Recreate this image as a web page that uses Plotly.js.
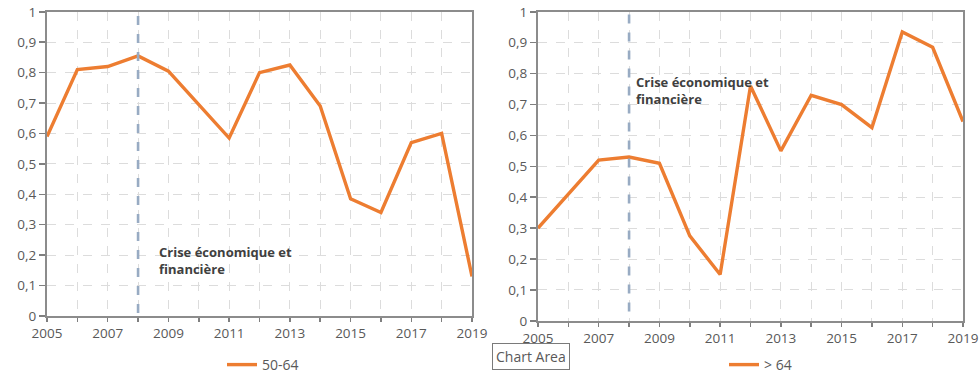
<!DOCTYPE html>
<html>
<head>
<meta charset="utf-8">
<script src="https://cdn.plot.ly/plotly-3.0.1.min.js"></script>
<style>
html,body{margin:0;padding:0;background:#fff;overflow:hidden;}
#chart{width:979px;height:381px;}
</style>
</head>
<body>
<div id="chart"></div>
<script>
// ---- data ----
const years = [2005,2006,2007,2008,2009,2010,2011,2012,2013,2014,2015,2016,2017,2018,2019];
const xTickLabels = ['2005','','2007','','2009','','2011','','2013','','2015','','2017','','2019'];
const seriesA_name = '50-64';
const seriesA = [0.59,0.81,0.82,0.855,0.805,0.695,0.585,0.80,0.825,0.69,0.385,0.34,0.57,0.60,0.13];
const seriesB_name = '> 64';
const seriesB = [0.30,0.41,0.52,0.53,0.51,0.275,0.15,0.76,0.55,0.73,0.70,0.625,0.935,0.885,0.645];
const crisisYear = 2008;
const crisisLabel = 'Crise économique et<br>financière';

const orange = '#ED7D31';
const tickFont = {family:'Open Sans, sans-serif', size:13.5, color:'#595959'};

function xax(domain, anchor){
  return {
    domain: domain, anchor: anchor, range:[2005,2019],
    tickmode:'array', tickvals: years, ticktext: xTickLabels,
    ticks:'outside', ticklen:4, tickcolor:'#7f7f7f', tickwidth:1.5,
    showline:true, linecolor:'#8c8c8c', linewidth:2, mirror:true,
    showgrid:true, gridcolor:'#dcdcdc', griddash:'dash', gridwidth:1,
    zeroline:false, tickfont: tickFont, fixedrange:true
  };
}
function yax(domain, anchor){
  return {
    domain: domain, anchor: anchor, range:[0,1], dtick:0.1, tick0:0,
    ticks:'outside', ticklen:6, tickcolor:'#7f7f7f', tickwidth:1.5,
    showline:true, linecolor:'#8c8c8c', linewidth:2, mirror:true,
    showgrid:true, gridcolor:'#dcdcdc', griddash:'dash', gridwidth:1,
    zeroline:false, tickfont: tickFont, fixedrange:true
  };
}

const traces = [
  {x: years, y: seriesA, name: seriesA_name, type:'scatter', mode:'lines',
   line:{color:orange, width:3.4}, xaxis:'x', yaxis:'y', legend:'legend'},
  {x: years, y: seriesB, name: seriesB_name, type:'scatter', mode:'lines',
   line:{color:orange, width:3.4}, xaxis:'x2', yaxis:'y2', legend:'legend2'}
];

const W = 979, H = 381;
const legFont = {family:'Open Sans, sans-serif', size:14, color:'#595959'};
const layout = {
  width: W, height: H,
  margin:{l:0,r:0,t:0,b:0},
  paper_bgcolor:'#fff', plot_bgcolor:'#fff',
  separators:', ',
  xaxis: xax([47/W, 472/W], 'y'),
  yaxis: yax([1-321/H, 1-12/H], 'x'),
  xaxis2: xax([538/W, 963/W], 'y2'),
  yaxis2: yax([1-326/H, 1-12/H], 'x2'),
  showlegend:true,
  legend:{x:222/W, y:1-371/H, xanchor:'left', yanchor:'middle', orientation:'h',
          font:legFont, bgcolor:'rgba(0,0,0,0)'},
  legend2:{x:724/W, y:1-371/H, xanchor:'left', yanchor:'middle', orientation:'h',
          font:legFont, bgcolor:'rgba(0,0,0,0)'},
  shapes:[
    {type:'line', xref:'x', yref:'y domain', x0:crisisYear, x1:crisisYear, y0:0.01, y1:1,
     line:{color:'#98abc3', width:2.6, dash:'dash'}, layer:'above'},
    {type:'line', xref:'x2', yref:'y2 domain', x0:crisisYear, x1:crisisYear, y0:0.03, y1:1,
     line:{color:'#98abc3', width:2.6, dash:'dash'}, layer:'above'}
  ],
  annotations:[
    {xref:'x', yref:'y', x:2008.62, y:0.245, xanchor:'left', yanchor:'top', align:'left',
     text:'<b>'+crisisLabel+'</b>', showarrow:false,
     font:{family:'Open Sans, sans-serif', size:13, color:'#404040'}},
    {xref:'x2', yref:'y2', x:2008.17, y:0.81, xanchor:'left', yanchor:'top', align:'left',
     text:'<b>'+crisisLabel+'</b>', showarrow:false,
     font:{family:'Open Sans, sans-serif', size:13, color:'#404040'}},
    {xref:'paper', yref:'paper', x:492/W, y:1-348/H, xanchor:'left', yanchor:'top',
     text:'Chart Area', showarrow:false, bgcolor:'#ffffff', bordercolor:'#7a7a7a', borderwidth:1, borderpad:3,
     font:{family:'Open Sans, sans-serif', size:14, color:'#595959'}}
  ]
};

Plotly.newPlot('chart', traces, layout, {staticPlot:true, displayModeBar:false});
</script>
</body>
</html>
